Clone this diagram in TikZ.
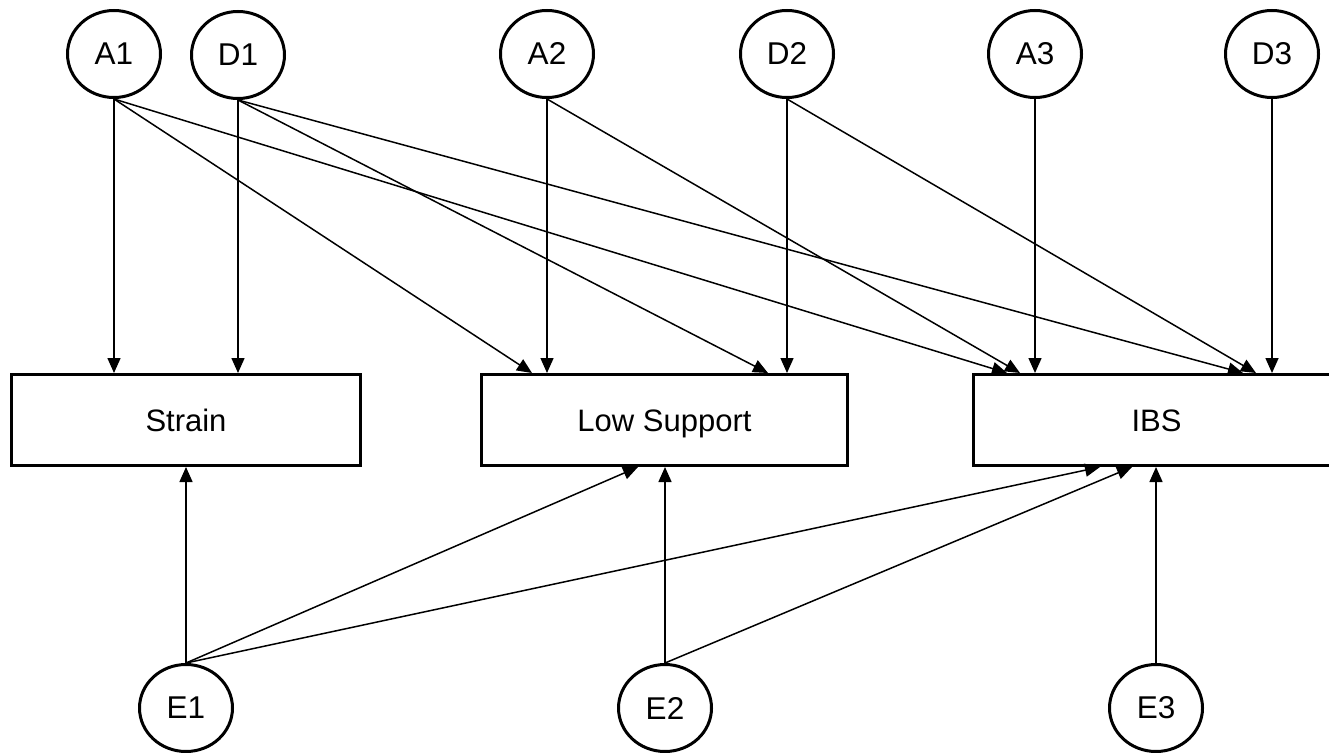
\documentclass[tikz,border=0pt]{standalone}
\usepackage{fontspec}
\setmainfont{Liberation Sans}
\usetikzlibrary{shapes.geometric,arrows.meta}
\begin{document}
\begin{tikzpicture}[x=1pt,y=-1pt,
  latent/.style={ellipse,draw,line width=3pt,minimum width=93pt,minimum height=87pt,inner sep=0pt,font=\fontsize{31.5}{31.5}\selectfont},
  obs/.style={rectangle,draw,line width=3pt,inner sep=0pt,minimum height=91pt,text height=22pt,text depth=0pt,font=\fontsize{31}{31}\selectfont},
  edge/.style={line width=1.5pt,-{Triangle[length=15pt,width=13pt]}}]
\useasboundingbox (0,0) rectangle (1329,752);
\fill[white] (0,0) rectangle (1329,752);
\clip (0,0) rectangle (1329,752);
% latent nodes
\node[latent] (A1) at (114,54) {A1};
\node[latent] (D1) at (238,55) {D1};
\node[latent] (A2) at (547,54) {A2};
\node[latent] (D2) at (787,54) {D2};
\node[latent] (A3) at (1035,54) {A3};
\node[latent] (D3) at (1272,54) {D3};
\node[latent] (E1) at (186,708) {E1};
\node[latent] (E2) at (665,708) {E2};
\node[latent] (E3) at (1156,708) {E3};
% observed boxes
\node[obs,minimum width=349pt] (S) at (186,420) {Strain};
\node[obs,minimum width=366pt] (L) at (664.5,420) {Low Support};
\node[obs,minimum width=366pt] (I) at (1156.5,420) {IBS};
% target points
\coordinate (LtA1) at (532,373);
\coordinate (LtD1) at (768,373);
\coordinate (ItA1) at (1007,373);
\coordinate (ItA2) at (1020,373);
\coordinate (ItD1) at (1243,373);
\coordinate (ItD2) at (1256,373);
\coordinate (LbE1) at (638,467);
\coordinate (IbE1) at (1100,467);
\coordinate (IbE2) at (1132,467);
% edges from top
\draw[edge] (A1.south) -- (A1.south |- S.north);
\draw[edge] (D1.south) -- (D1.south |- S.north);
\draw[edge] (A1.south) -- (LtA1);
\draw[edge] (A1.south) -- (ItA1);
\draw[edge] (D1.south) -- (LtD1);
\draw[edge] (D1.south) -- (ItD1);
\draw[edge] (A2.south) -- (A2.south |- L.north);
\draw[edge] (A2.south) -- (ItA2);
\draw[edge] (D2.south) -- (D2.south |- L.north);
\draw[edge] (D2.south) -- (ItD2);
\draw[edge] (A3.south) -- (A3.south |- I.north);
\draw[edge] (D3.south) -- (D3.south |- I.north);
% edges from bottom
\draw[edge] (E1.north) -- (E1.north |- S.south);
\draw[edge] (E1.north) -- (LbE1);
\draw[edge] (E1.north) -- (IbE1);
\draw[edge] (E2.north) -- (E2.north |- L.south);
\draw[edge] (E2.north) -- (IbE2);
\draw[edge] (E3.north) -- (E3.north |- I.south);
\end{tikzpicture}
\end{document}
